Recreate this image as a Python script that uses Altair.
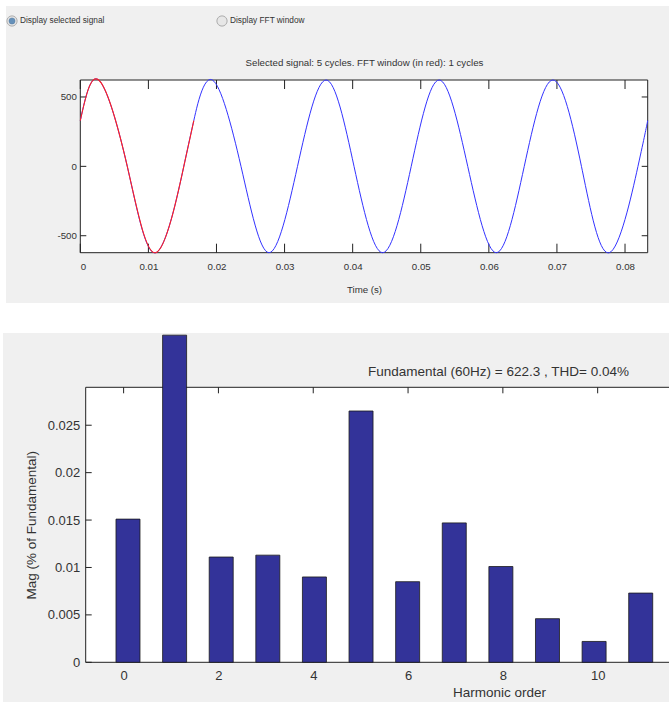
import altair as alt
import pandas as pd

# ---- harmonic spectrum (bottom panel) ----
harmonic_order = [0, 1, 2, 3, 4, 5, 6, 7, 8, 9, 10, 11]
magnitude_pct = [0.0151, 0.0345, 0.0111, 0.0113, 0.0090, 0.0265,
                 0.0085, 0.0147, 0.0101, 0.0046, 0.0022, 0.0073]

# ---- selected signal (top panel): start, extrema, zero crossings, window end ----
time_s = [0.0,
          0.0027, 0.0069, 0.0111, 0.0152, 0.01667,
          0.0194, 0.0236, 0.0277, 0.0319,
          0.0361, 0.0402, 0.0444, 0.0486,
          0.0527, 0.0569, 0.0611, 0.0652,
          0.0694, 0.0736, 0.0777, 0.0819,
          0.08333]
signal_v = [330,
            622.3, 0, -622.3, 0, 330,
            622.3, 0, -622.3, 0,
            622.3, 0, -622.3, 0,
            622.3, 0, -622.3, 0,
            622.3, 0, -622.3, 0,
            330]

# FFT window (first cycle, drawn in red)
fft_time_s = [0.0, 0.0027, 0.0069, 0.0111, 0.0152, 0.01667]
fft_signal_v = [330, 622.3, 0, -622.3, 0, 330]

# ---- tick values ----
top_x_ticks = [0, 0.01, 0.02, 0.03, 0.04, 0.05, 0.06, 0.07, 0.08]
top_y_ticks = [-500, 0, 500]
bot_x_ticks = [0, 2, 4, 6, 8, 10]
bot_y_ticks = [0, 0.005, 0.01, 0.015, 0.02, 0.025]

# ---- texts ----
radio_1 = "Display selected signal"
radio_2 = "Display FFT window"
top_title = "Selected signal: 5 cycles. FFT window (in red): 1 cycles"
top_xlabel = "Time (s)"
bot_title = "Fundamental (60Hz) = 622.3 , THD= 0.04%"
bot_xlabel = "Harmonic order"
bot_ylabel = "Mag (% of Fundamental)"

# ---- layout ----
W, H = 669, 702
T_DOMAIN = [0.0, 0.08333]
V_DOMAIN = [-622.3, 622.3]
H_DOMAIN = [-0.8, 11.8]
M_DOMAIN = [0.0, 0.029]
T_RANGE = [80.3, 647.7]
V_RANGE = [252.7, 80.0]
H_RANGE = [85.7, 683.0]
M_RANGE = [662.3, 387.3]

GRAY = "#f0f0f0"
INK = "#222222"
TXT = "#333333"
SANS = "Liberation Sans, Arial, sans-serif"
SMALL = 9.7          # GUI-panel text size
PLAIN = "'' + datum.value"   # plain number labels (e.g. -500, 0.025, 10)


def sc(domain, rng):
    return alt.Scale(domain=domain, range=rng, nice=False, zero=False)


def px_to_data(px, domain, rng):
    return px * (domain[1] - domain[0]) / abs(rng[1] - rng[0])


one = pd.DataFrame({"k": [0]})

# ---- window panels ----
panel_top = alt.Chart(one).mark_rect(fill=GRAY).encode(
    x=alt.value(6), x2=alt.value(W), y=alt.value(6), y2=alt.value(303))
panel_bot = alt.Chart(one).mark_rect(fill=GRAY).encode(
    x=alt.value(3), x2=alt.value(W), y=alt.value(333), y2=alt.value(H))

# ---- radio buttons ----
radio_outer = alt.Chart(pd.DataFrame({"px": [12, 222]})).mark_point(
    shape="circle", size=105, filled=True, fill="#e4e4e4", stroke="#8f8f8f",
    strokeWidth=1).encode(x=alt.X("px:Q", scale=alt.Scale(domain=[0, W], range=[0, W]), axis=None),
                          y=alt.value(21))
radio_dot = alt.Chart(one).mark_point(
    shape="circle", size=38, filled=True, fill="#2f6ea8", stroke="#1d4f80",
    strokeWidth=0.5).encode(x=alt.value(12), y=alt.value(21))
radio_txt1 = alt.Chart(one).mark_text(
    align="left", baseline="middle", font=SANS, fontSize=8.3, color=TXT
).encode(x=alt.value(20), y=alt.value(21), text=alt.value(radio_1))
radio_txt2 = alt.Chart(one).mark_text(
    align="left", baseline="middle", font=SANS, fontSize=8.3, color=TXT
).encode(x=alt.value(230), y=alt.value(21), text=alt.value(radio_2))

# ---- top panel: signal ----
top_box_df = pd.DataFrame({"t0": [T_DOMAIN[0]], "t1": [T_DOMAIN[1]],
                           "v0": [V_DOMAIN[0]], "v1": [V_DOMAIN[1]]})
top_box = alt.Chart(top_box_df).mark_rect(fill="white", stroke=INK, strokeWidth=1).encode(
    x=alt.X("t0:Q", scale=sc(T_DOMAIN, T_RANGE),
            axis=alt.Axis(orient="bottom", offset=-(H - V_RANGE[0]), values=top_x_ticks,
                          labelExpr=PLAIN, domain=False, ticks=False, grid=False, zindex=2,
                          labelFont=SANS, labelFontSize=SMALL, labelColor=TXT, labelPadding=9,
                          title=top_xlabel, titleFont=SANS, titleFontSize=SMALL,
                          titleFontWeight="normal", titleColor=TXT,
                          titleX=(T_RANGE[0] + T_RANGE[1]) / 2, titleY=289 - V_RANGE[0],
                          titleBaseline="middle", titleAlign="center")),
    x2="t1:Q",
    y=alt.Y("v0:Q", scale=sc(V_DOMAIN, V_RANGE),
            axis=alt.Axis(orient="left", offset=-T_RANGE[0], values=top_y_ticks,
                          labelExpr=PLAIN, domain=False, ticks=False, grid=False, zindex=2,
                          labelFont=SANS, labelFontSize=SMALL, labelColor=TXT, labelPadding=4,
                          title=None)),
    y2="v1:Q",
)
top_title_layer = alt.Chart(top_box_df).mark_rect(opacity=0).encode(
    x=alt.X("t0:Q", scale=sc(T_DOMAIN, T_RANGE),
            axis=alt.Axis(orient="top", offset=-V_RANGE[1], labels=False, ticks=False,
                          domain=False, grid=False, zindex=2, title=top_title, titleFont=SANS,
                          titleFontSize=SMALL, titleFontWeight="normal", titleColor=TXT,
                          titleX=(T_RANGE[0] + T_RANGE[1]) / 2, titleY=62 - V_RANGE[1],
                          titleBaseline="middle", titleAlign="center")),
    x2="t1:Q",
    y=alt.Y("v0:Q", scale=sc(V_DOMAIN, V_RANGE), axis=None),
    y2="v1:Q",
)

sig_df = pd.DataFrame({"t": time_s, "v": signal_v})
fft_df = pd.DataFrame({"t": fft_time_s, "v": fft_signal_v})
blue_line = alt.Chart(sig_df).mark_line(color="#3333ff", strokeWidth=1, interpolate="natural").encode(
    x=alt.X("t:Q", scale=sc(T_DOMAIN, T_RANGE), axis=None),
    y=alt.Y("v:Q", scale=sc(V_DOMAIN, V_RANGE), axis=None))
red_line = alt.Chart(fft_df).mark_line(color="#ff2020", strokeWidth=1.1, interpolate="natural").encode(
    x=alt.X("t:Q", scale=sc(T_DOMAIN, T_RANGE), axis=None),
    y=alt.Y("v:Q", scale=sc(V_DOMAIN, V_RANGE), axis=None))

# inner tick marks, top panel
dv = px_to_data(9, V_DOMAIN, V_RANGE)
dt = px_to_data(6, T_DOMAIN, T_RANGE)
top_vt = pd.DataFrame(
    [{"x": t, "y": V_DOMAIN[0], "y2": V_DOMAIN[0] + dv} for t in top_x_ticks]
    + [{"x": t, "y": V_DOMAIN[1], "y2": V_DOMAIN[1] - dv} for t in top_x_ticks])
top_ht = pd.DataFrame(
    [{"y": v, "x": T_DOMAIN[0], "x2": T_DOMAIN[0] + dt} for v in top_y_ticks]
    + [{"y": v, "x": T_DOMAIN[1], "x2": T_DOMAIN[1] - dt} for v in top_y_ticks])
top_vticks = alt.Chart(top_vt).mark_rule(color=INK, strokeWidth=1).encode(
    x=alt.X("x:Q", scale=sc(T_DOMAIN, T_RANGE), axis=None),
    y=alt.Y("y:Q", scale=sc(V_DOMAIN, V_RANGE), axis=None), y2="y2:Q")
top_hticks = alt.Chart(top_ht).mark_rule(color=INK, strokeWidth=1).encode(
    y=alt.Y("y:Q", scale=sc(V_DOMAIN, V_RANGE), axis=None),
    x=alt.X("x:Q", scale=sc(T_DOMAIN, T_RANGE), axis=None), x2="x2:Q")

# ---- bottom panel: harmonic spectrum ----
bot_box_df = pd.DataFrame({"h0": [H_DOMAIN[0]], "h1": [H_DOMAIN[1]],
                           "m0": [M_DOMAIN[0]], "m1": [M_DOMAIN[1]]})
bot_box = alt.Chart(bot_box_df).mark_rect(fill="white", stroke=INK, strokeWidth=1).encode(
    x=alt.X("h0:Q", scale=sc(H_DOMAIN, H_RANGE),
            axis=alt.Axis(orient="bottom", offset=-(H - M_RANGE[0]), values=bot_x_ticks,
                          labelExpr=PLAIN, domain=False, ticks=False, grid=False, zindex=2,
                          labelFont=SANS, labelFontSize=13, labelColor=TXT, labelPadding=7,
                          title=bot_xlabel, titleFont=SANS, titleFontSize=13.5,
                          titleFontWeight="normal", titleColor=TXT,
                          titleX=499, titleY=692 - M_RANGE[0],
                          titleBaseline="middle", titleAlign="center")),
    x2="h1:Q",
    y=alt.Y("m0:Q", scale=sc(M_DOMAIN, M_RANGE),
            axis=alt.Axis(orient="left", offset=-H_RANGE[0], values=bot_y_ticks,
                          labelExpr=PLAIN, domain=False, ticks=False, grid=False, zindex=2,
                          labelFont=SANS, labelFontSize=13, labelColor=TXT, labelPadding=6,
                          title=bot_ylabel, titleFont=SANS, titleFontSize=13.5,
                          titleFontWeight="normal", titleColor=TXT,
                          titleX=32 - H_RANGE[0], titleY=(M_RANGE[0] + M_RANGE[1]) / 2,
                          titleAngle=270, titleBaseline="middle", titleAlign="center")),
    y2="m1:Q",
)
bot_title_layer = alt.Chart(bot_box_df).mark_rect(opacity=0).encode(
    x=alt.X("h0:Q", scale=sc(H_DOMAIN, H_RANGE),
            axis=alt.Axis(orient="top", offset=-M_RANGE[1], labels=False, ticks=False,
                          domain=False, grid=False, zindex=2, title=bot_title, titleFont=SANS,
                          titleFontSize=13.5, titleFontWeight="normal", titleColor=TXT,
                          titleX=498, titleY=371 - M_RANGE[1],
                          titleBaseline="middle", titleAlign="center")),
    x2="h1:Q",
    y=alt.Y("m0:Q", scale=sc(M_DOMAIN, M_RANGE), axis=None),
    y2="m1:Q",
)

# inner tick marks, bottom panel
dm = px_to_data(6, M_DOMAIN, M_RANGE)
dh = px_to_data(6, H_DOMAIN, H_RANGE)
bot_vt = pd.DataFrame(
    [{"x": h, "y": M_DOMAIN[0], "y2": M_DOMAIN[0] + dm} for h in bot_x_ticks]
    + [{"x": h, "y": M_DOMAIN[1], "y2": M_DOMAIN[1] - dm} for h in bot_x_ticks])
bot_ht = pd.DataFrame(
    [{"y": m, "x": H_DOMAIN[0], "x2": H_DOMAIN[0] + dh} for m in bot_y_ticks])
bot_vticks = alt.Chart(bot_vt).mark_rule(color=INK, strokeWidth=1).encode(
    x=alt.X("x:Q", scale=sc(H_DOMAIN, H_RANGE), axis=None),
    y=alt.Y("y:Q", scale=sc(M_DOMAIN, M_RANGE), axis=None), y2="y2:Q")
bot_hticks = alt.Chart(bot_ht).mark_rule(color=INK, strokeWidth=1).encode(
    y=alt.Y("y:Q", scale=sc(M_DOMAIN, M_RANGE), axis=None),
    x=alt.X("x:Q", scale=sc(H_DOMAIN, H_RANGE), axis=None), x2="x2:Q")

bars_df = pd.DataFrame({"harmonic": harmonic_order, "mag": magnitude_pct})
bars = alt.Chart(bars_df).mark_bar(size=24, color="#333399", stroke="#1a1a1a",
                                   strokeWidth=0.8).encode(
    x=alt.X("harmonic:Q", scale=sc(H_DOMAIN, H_RANGE), axis=None),
    y=alt.Y("mag:Q", scale=sc(M_DOMAIN, M_RANGE), axis=None))

chart = alt.layer(
    panel_top, panel_bot,
    radio_outer, radio_dot, radio_txt1, radio_txt2,
    top_box, top_title_layer, top_vticks, top_hticks, blue_line, red_line,
    bot_box, bot_title_layer, bot_vticks, bot_hticks, bars,
).resolve_scale(x="independent", y="independent").resolve_axis(
    x="independent", y="independent"
).properties(
    width=W, height=H, padding=0, autosize=alt.AutoSizeParams(type="none"),
    background="white",
).configure_view(stroke=None)

chart.save("out.html", embed_options={"renderer": "svg", "actions": False})
